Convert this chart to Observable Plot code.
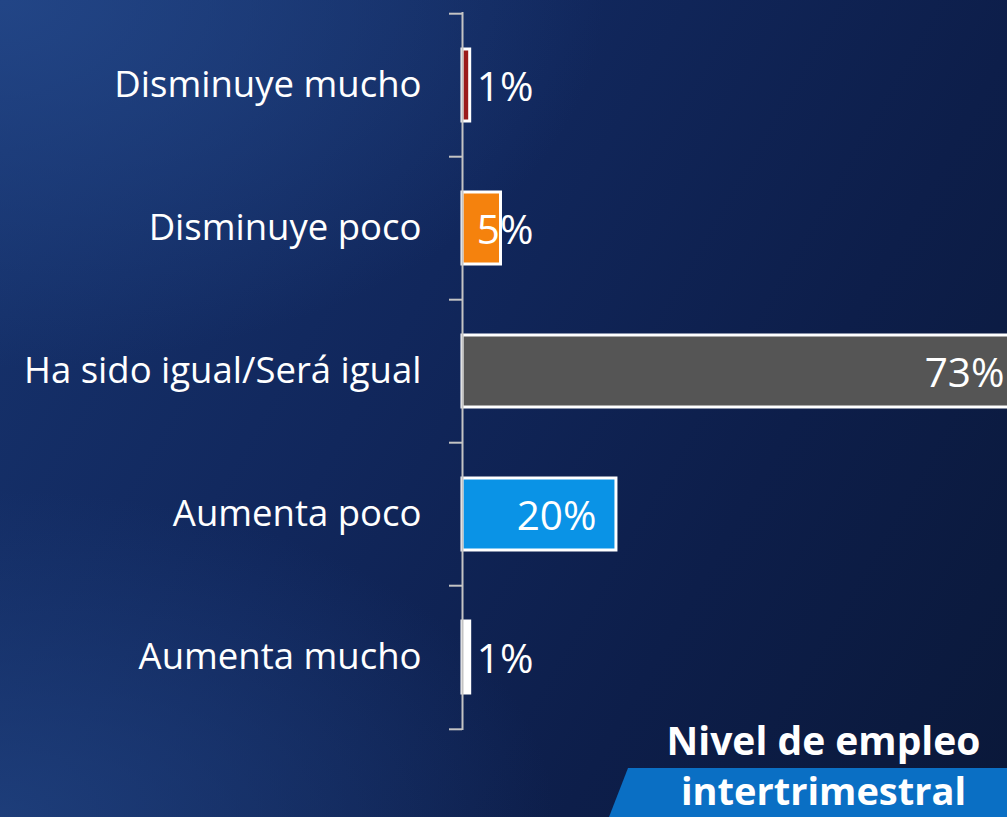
<!DOCTYPE html>
<html>
<head>
<meta charset="utf-8">
<script src="https://cdn.jsdelivr.net/npm/d3@7"></script>
<script src="https://cdn.jsdelivr.net/npm/@observablehq/plot@0.6"></script>
<style>
  html, body { margin: 0; padding: 0; }
  body {
    width: 1007px; height: 817px; overflow: hidden; position: relative;
    font-family: "Open Sans", sans-serif;
    background:
      radial-gradient(ellipse 60% 45% at 0% 0%, rgba(36,72,138,0.85) 0%, rgba(36,72,138,0) 100%),
      radial-gradient(ellipse 55% 40% at 0% 100%, rgba(32,66,128,0.8) 0%, rgba(32,66,128,0) 100%),
      linear-gradient(120deg, #17346f 0%, #11275c 40%, #0d1e4a 70%, #0a1839 100%);
  }
  #chart { position: absolute; left: 0; top: 0; }
  #title1 {
    position: absolute; left: 640px; width: 367px; top: 714px;
    text-align: center; color: #fff; font-weight: 700; font-size: 39px; line-height: 52px;
  }
  #banner {
    position: absolute; left: 609px; top: 768px; width: 398px; height: 49px;
    background: #0a6fc4;
    clip-path: polygon(19px 0, 100% 0, 100% 100%, 0 100%);
  }
  #title2 {
    position: absolute; left: 640px; width: 367px; top: 765px;
    text-align: center; color: #fff; font-weight: 700; font-size: 38px; line-height: 50px;
  }
</style>
</head>
<body>
<div id="chart"></div>
<div id="title1">Nivel de empleo</div>
<div id="banner"></div>
<div id="title2">intertrimestral</div>
<script>
const categories = ["Disminuye mucho", "Disminuye poco", "Ha sido igual/Será igual", "Aumenta poco", "Aumenta mucho"];
const values = [1, 5, 73, 20, 1];
const colors = ["#9b1b1b", "#f5820d", "#555555", "#0a93e6", "#ffffff"];

const data = categories.map((c, i) => ({cat: c, value: values[i], color: colors[i]}));

const W = 1007, H = 817, mL = 462, mT = 12, mB = 87;
const xMax = 70.8;
const step = (H - mB - mT) / categories.length;
const kx = (W - mL) / xMax;
const tickLen = 13 / kx;

const plot = Plot.plot({
  width: W, height: H,
  marginLeft: mL, marginRight: 0, marginTop: mT, marginBottom: mB,
  style: {background: "transparent", color: "white", fontFamily: "Open Sans, sans-serif", overflow: "hidden"},
  x: {domain: [0, xMax], axis: null},
  y: {domain: categories, paddingInner: 0.5, paddingOuter: 0.25, axis: null},
  color: {type: "identity"},
  marks: [
    Plot.barX(data, {x: "value", y: "cat", fill: "color", stroke: "white", strokeWidth: 3}),
    Plot.ruleX([0], {stroke: "#c4c4c4", strokeWidth: 2}),
    Plot.ruleY(categories, {y: d => d, x1: -tickLen, x2: 0, dy: -step / 2, stroke: "#c4c4c4", strokeWidth: 2}),
    Plot.ruleY(categories.slice(-1), {y: d => d, x1: -tickLen, x2: 0, dy: step / 2, stroke: "#c4c4c4", strokeWidth: 2}),
    Plot.text(data, {x: 0, y: "cat", text: "cat", textAnchor: "end", dx: -41, fontSize: 36.5, fill: "white"}),
    Plot.text(data, {filter: d => d.value >= 10, x: "value", y: "cat", text: d => d.value + "%", textAnchor: "end", dx: -20, dy: 3, fontSize: 40.5, fill: "white"}),
    Plot.text(data, {filter: d => d.value < 10, x: 1.85, y: "cat", text: d => d.value + "%", textAnchor: "start", dy: 3, fontSize: 40.5, fill: "white"})
  ]
});
document.getElementById("chart").appendChild(plot);
</script>
</body>
</html>
